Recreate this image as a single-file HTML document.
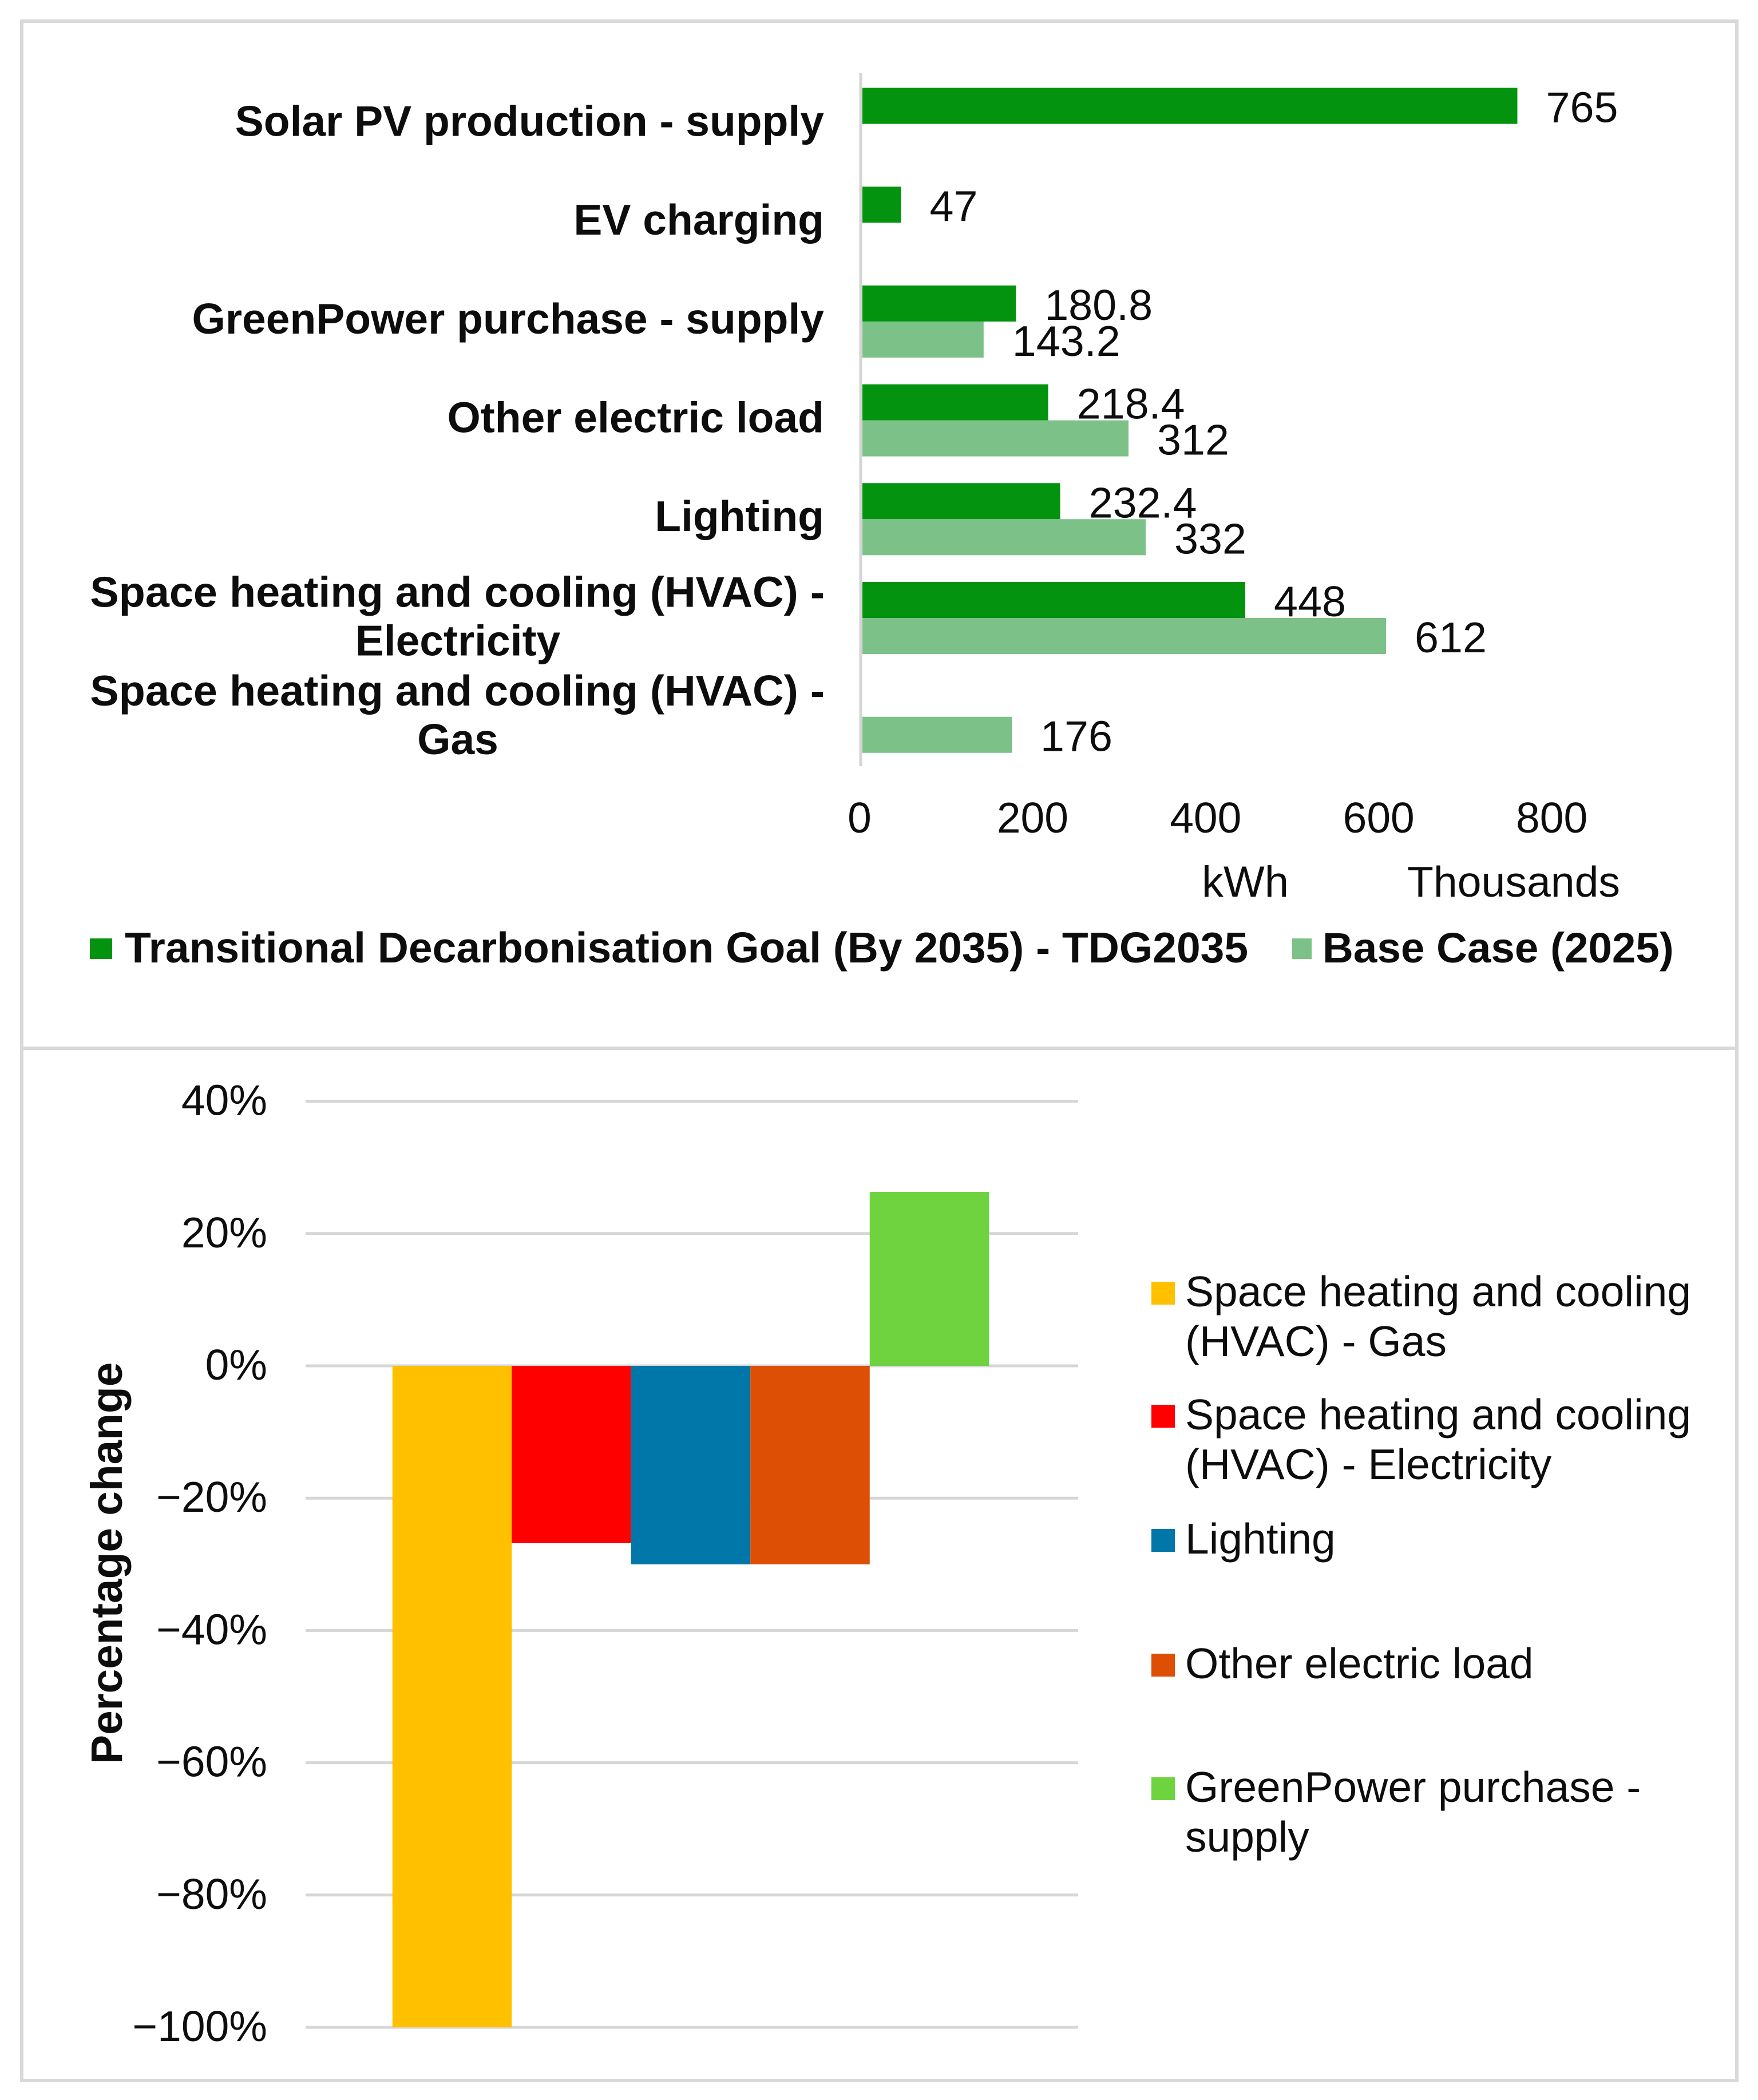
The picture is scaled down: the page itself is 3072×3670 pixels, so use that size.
<!DOCTYPE html>
<html lang="en">
<head>
<meta charset="utf-8">
<title>Energy by end use and percentage change</title>
<style>
html,body{margin:0;padding:0;background:#fff;}
svg{display:block;}
text{font-family:"Liberation Sans",Arial,sans-serif;fill:#0d0d0d;}
</style>
</head>
<body>
<svg id="chart" xmlns="http://www.w3.org/2000/svg" width="3072" height="3670" viewBox="0 0 3072 3670">
  <rect x="0" y="0" width="3072" height="3670" fill="#ffffff"/>
  <g fill="none" stroke="#d9d9d9" stroke-width="6">
    <rect x="38" y="37" width="2997" height="3599"/>
    <line x1="38" y1="1832" x2="3035" y2="1832"/>
  </g>
  <g id="top-chart"></g>
  <g id="bottom-chart"></g>
</svg>
<script>
// ---- Top chart data ----
const categories = [
  ["Solar PV production - supply"],
  ["EV charging"],
  ["GreenPower purchase - supply"],
  ["Other electric load"],
  ["Lighting"],
  ["Space heating and cooling (HVAC) -", "Electricity"],
  ["Space heating and cooling (HVAC) -", "Gas"]
];
const tdg2035Values = [765, 47, 180.8, 218.4, 232.4, 448, null];
const baseCaseValues = [null, null, 143.2, 312, 332, 612, 176];
const xTicks = [0, 200, 400, 600, 800];

// ---- Bottom chart data ----
const changeCategories = [
  "Space heating and cooling (HVAC) - Gas",
  "Space heating and cooling (HVAC) - Electricity",
  "Lighting",
  "Other electric load",
  "GreenPower purchase - supply"
];
const changeValues = [-100, -26.8, -30, -30, 26.3];
const yTicks = [40, 20, 0, -20, -40, -60, -80, -100];

const NS = "http://www.w3.org/2000/svg";
const DARK = "#03930f", LIGHT = "#7cc187";
const CHANGE_COLORS = ["#ffc000", "#ff0000", "#0077a8", "#dc4f04", "#6fd340"];
const top_ = document.getElementById("top-chart");
const bot = document.getElementById("bottom-chart");

function mk(parent, tag, attrs, content) {
  const el = document.createElementNS(NS, tag);
  for (const k in attrs) el.setAttribute(k, attrs[k]);
  if (content !== undefined) el.textContent = content;
  parent.appendChild(el);
  return el;
}
function slug(s) {
  return s.toLowerCase().replace(/[^a-z0-9]+/g, "-").replace(/^-|-$/g, "");
}

// Top chart axes
const xScale = v => 1504 + v * 1.5;
const tickX = v => 1502 + v * 1.512;
const bandTop = 130, bandH = 172.7, barH = 63, barPad = 23.5;
const bandY = i => bandTop + bandH * i;

// Top: tick labels
xTicks.forEach(t => {
  const el = mk(top_, "text", {x: tickX(t), y: 1455, "text-anchor": "middle", "font-size": 75}, String(t));
  
  
});

// Top: category labels
categories.forEach((lines, i) => {
  const cy = bandY(i) + bandH / 2;
  const two = lines.length > 1;
  const first = cy + (two ? 23 : 21) - (lines.length - 1) * 42.5;
  lines.forEach((ln, j) => {
    const el = mk(top_, "text", {
      x: two ? (j === 0 ? 1441 : 800) : 1440,
      y: first + j * 85,
      "text-anchor": two && j === 1 ? "middle" : "end",
      "font-size": two && j === 0 ? 75.6 : 75,
      "font-weight": "bold"
    }, ln);
    
    
  });
});

// Top: series
function drawSeries(values, slot, color, seriesName) {
  values.forEach((v, i) => {
    if (v === null) return;
    const y = bandY(i) + barPad + slot * barH;
    const lbl = mk(top_, "text", {x: xScale(v) + 50, y: y + barH - 3, "font-size": 75.5}, String(v));
    
    
    const r = mk(top_, "rect", {x: xScale(0) + 3, y: y, width: xScale(v) - xScale(0) - 3, height: barH, fill: color});
    
    
  });
}
drawSeries(tdg2035Values, 0, DARK, "tdg2035");
drawSeries(baseCaseValues, 1, LIGHT, "base-case");

// Top: vertical axis
const axisLine = mk(top_, "line", {x1: 1504, y1: 128, x2: 1504, y2: 1339, stroke: "#d4d4d4", "stroke-width": 5});



// Top: axis titles
const kwh = mk(top_, "text", {x: 2100, y: 1567, "font-size": 76}, "kWh");


const thousands = mk(top_, "text", {x: 2459, y: 1567, "font-size": 75.2}, "Thousands");



// Top: legend
const sw1 = mk(top_, "rect", {x: 157, y: 1640, width: 39, height: 36, fill: DARK});


const lg1 = mk(top_, "text", {x: 218, y: 1682, "font-size": 75, "font-weight": "bold"}, "Transitional Decarbonisation Goal (By 2035) - TDG2035");


const sw2 = mk(top_, "rect", {x: 2258, y: 1640, width: 34, height: 36, fill: LIGHT});


const lg2 = mk(top_, "text", {x: 2311, y: 1682, "font-size": 74.6, "font-weight": "bold"}, "Base Case (2025)");



// Bottom chart axes
const yScale = v => 2387 - v * 11.56;
const plotL = 534, plotR = 1884, changeBand = 208.5;
const groupL = 1207 - changeBand * changeValues.length / 2;

yTicks.forEach(t => {
  const g = mk(bot, "line", {x1: plotL, x2: plotR, y1: yScale(t), y2: yScale(t), stroke: "#d6d6d6", "stroke-width": 5});
  
  
  const lbl = mk(bot, "text", {x: 467, y: yScale(t) + 24, "text-anchor": "end", "font-size": 75}, (t < 0 ? "\u2212" + (-t) : t) + "%");
  
  
});

changeValues.forEach((v, i) => {
  const y0 = yScale(Math.max(v, 0)), y1 = yScale(Math.min(v, 0));
  const r = mk(bot, "rect", {x: groupL + i * changeBand, y: y0, width: changeBand, height: y1 - y0, fill: CHANGE_COLORS[i]});
  
  
});

const yTitle = mk(bot, "text", {transform: "translate(213 3083) rotate(-90)", "font-size": 76.6, "font-weight": "bold"}, "Percentage change");



// Bottom: legend (text wrapping per entry)
const legendLines = [
  ["Space heating and cooling", "(HVAC) - Gas"],
  ["Space heating and cooling", "(HVAC) - Electricity"],
  ["Lighting"],
  ["Other electric load"],
  ["GreenPower purchase -", "supply"]
];
const legendTop = [2240, 2455, 2672, 2890, 3106];
legendLines.forEach((lines, i) => {
  const sw = mk(bot, "rect", {x: 2012, y: legendTop[i], width: 41, height: 40, fill: CHANGE_COLORS[i]});
  
  
  lines.forEach((ln, j) => {
    const t = mk(bot, "text", {x: 2071, y: legendTop[i] + 43 + j * 87, "font-size": 75}, ln);
    
    
  });
});
</script>
</body>
</html>
